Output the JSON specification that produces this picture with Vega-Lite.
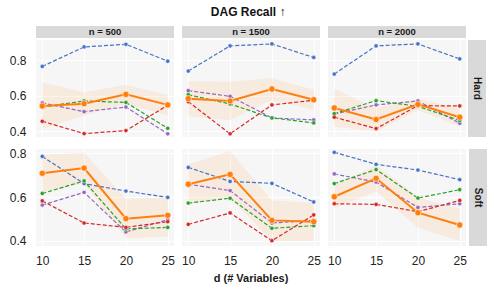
{
  "$schema": "https://vega.github.io/schema/vega-lite/v6.json",
  "background": "white",
  "padding": {"left": 9, "top": 6, "right": 8, "bottom": 6},
  "title": {"text": "DAG Recall ↑", "fontSize": 12, "fontWeight": "bold", "anchor": "middle", "color": "#111111", "offset": 7},
  "config": {
    "font": "Liberation Sans",
    "view": {"stroke": null},
    "legend": {"disable": true},
    "axis": {"labelFontSize": 12, "labelColor": "#222222", "gridColor": "white", "gridWidth": 1.1, "domain": false, "ticks": false}
  },
  "datasets": {
    "strips": [{"n": "n = 500"}, {"n": "n = 1500"}, {"n": "n = 2000"}],
    "main": [
      {"type": "Hard", "n": 500, "m": "B1", "d": 10, "v": 0.765},
      {"type": "Hard", "n": 500, "m": "B1", "d": 15, "v": 0.874},
      {"type": "Hard", "n": 500, "m": "B1", "d": 20, "v": 0.889},
      {"type": "Hard", "n": 500, "m": "B1", "d": 25, "v": 0.794},
      {"type": "Hard", "n": 500, "m": "B2", "d": 10, "v": 0.560},
      {"type": "Hard", "n": 500, "m": "B2", "d": 15, "v": 0.511},
      {"type": "Hard", "n": 500, "m": "B2", "d": 20, "v": 0.537},
      {"type": "Hard", "n": 500, "m": "B2", "d": 25, "v": 0.387},
      {"type": "Hard", "n": 500, "m": "B3", "d": 10, "v": 0.537},
      {"type": "Hard", "n": 500, "m": "B3", "d": 15, "v": 0.571},
      {"type": "Hard", "n": 500, "m": "B3", "d": 20, "v": 0.563},
      {"type": "Hard", "n": 500, "m": "B3", "d": 25, "v": 0.418},
      {"type": "Hard", "n": 500, "m": "B4", "d": 10, "v": 0.457},
      {"type": "Hard", "n": 500, "m": "B4", "d": 15, "v": 0.388},
      {"type": "Hard", "n": 500, "m": "B4", "d": 20, "v": 0.405},
      {"type": "Hard", "n": 500, "m": "B4", "d": 25, "v": 0.547},
      {"type": "Hard", "n": 500, "m": "Ours", "d": 10, "v": 0.543, "lo": 0.414, "hi": 0.675},
      {"type": "Hard", "n": 500, "m": "Ours", "d": 15, "v": 0.556, "lo": 0.490, "hi": 0.620},
      {"type": "Hard", "n": 500, "m": "Ours", "d": 20, "v": 0.608, "lo": 0.556, "hi": 0.660},
      {"type": "Hard", "n": 500, "m": "Ours", "d": 25, "v": 0.549, "lo": 0.490, "hi": 0.605},

      {"type": "Hard", "n": 1500, "m": "B1", "d": 10, "v": 0.739},
      {"type": "Hard", "n": 1500, "m": "B1", "d": 15, "v": 0.880},
      {"type": "Hard", "n": 1500, "m": "B1", "d": 20, "v": 0.891},
      {"type": "Hard", "n": 1500, "m": "B1", "d": 25, "v": 0.815},
      {"type": "Hard", "n": 1500, "m": "B2", "d": 10, "v": 0.629},
      {"type": "Hard", "n": 1500, "m": "B2", "d": 15, "v": 0.597},
      {"type": "Hard", "n": 1500, "m": "B2", "d": 20, "v": 0.476},
      {"type": "Hard", "n": 1500, "m": "B2", "d": 25, "v": 0.465},
      {"type": "Hard", "n": 1500, "m": "B3", "d": 10, "v": 0.606},
      {"type": "Hard", "n": 1500, "m": "B3", "d": 15, "v": 0.554},
      {"type": "Hard", "n": 1500, "m": "B3", "d": 20, "v": 0.476},
      {"type": "Hard", "n": 1500, "m": "B3", "d": 25, "v": 0.448},
      {"type": "Hard", "n": 1500, "m": "B4", "d": 10, "v": 0.567},
      {"type": "Hard", "n": 1500, "m": "B4", "d": 15, "v": 0.387},
      {"type": "Hard", "n": 1500, "m": "B4", "d": 20, "v": 0.549},
      {"type": "Hard", "n": 1500, "m": "B4", "d": 25, "v": 0.575},
      {"type": "Hard", "n": 1500, "m": "Ours", "d": 10, "v": 0.584, "lo": 0.486, "hi": 0.682},
      {"type": "Hard", "n": 1500, "m": "Ours", "d": 15, "v": 0.571, "lo": 0.463, "hi": 0.679},
      {"type": "Hard", "n": 1500, "m": "Ours", "d": 20, "v": 0.638, "lo": 0.578, "hi": 0.698},
      {"type": "Hard", "n": 1500, "m": "Ours", "d": 25, "v": 0.578, "lo": 0.522, "hi": 0.634},

      {"type": "Hard", "n": 2000, "m": "B1", "d": 10, "v": 0.722},
      {"type": "Hard", "n": 2000, "m": "B1", "d": 15, "v": 0.880},
      {"type": "Hard", "n": 2000, "m": "B1", "d": 20, "v": 0.891},
      {"type": "Hard", "n": 2000, "m": "B1", "d": 25, "v": 0.807},
      {"type": "Hard", "n": 2000, "m": "B2", "d": 10, "v": 0.498},
      {"type": "Hard", "n": 2000, "m": "B2", "d": 15, "v": 0.549},
      {"type": "Hard", "n": 2000, "m": "B2", "d": 20, "v": 0.571},
      {"type": "Hard", "n": 2000, "m": "B2", "d": 25, "v": 0.446},
      {"type": "Hard", "n": 2000, "m": "B3", "d": 10, "v": 0.500},
      {"type": "Hard", "n": 2000, "m": "B3", "d": 15, "v": 0.573},
      {"type": "Hard", "n": 2000, "m": "B3", "d": 20, "v": 0.541},
      {"type": "Hard", "n": 2000, "m": "B3", "d": 25, "v": 0.462},
      {"type": "Hard", "n": 2000, "m": "B4", "d": 10, "v": 0.480},
      {"type": "Hard", "n": 2000, "m": "B4", "d": 15, "v": 0.416},
      {"type": "Hard", "n": 2000, "m": "B4", "d": 20, "v": 0.545},
      {"type": "Hard", "n": 2000, "m": "B4", "d": 25, "v": 0.543},
      {"type": "Hard", "n": 2000, "m": "Ours", "d": 10, "v": 0.532, "lo": 0.426, "hi": 0.638},
      {"type": "Hard", "n": 2000, "m": "Ours", "d": 15, "v": 0.467, "lo": 0.400, "hi": 0.530},
      {"type": "Hard", "n": 2000, "m": "Ours", "d": 20, "v": 0.552, "lo": 0.520, "hi": 0.584},
      {"type": "Hard", "n": 2000, "m": "Ours", "d": 25, "v": 0.480, "lo": 0.430, "hi": 0.530},

      {"type": "Soft", "n": 500, "m": "B1", "d": 10, "v": 0.786},
      {"type": "Soft", "n": 500, "m": "B1", "d": 15, "v": 0.662},
      {"type": "Soft", "n": 500, "m": "B1", "d": 20, "v": 0.628},
      {"type": "Soft", "n": 500, "m": "B1", "d": 25, "v": 0.599},
      {"type": "Soft", "n": 500, "m": "B2", "d": 10, "v": 0.564},
      {"type": "Soft", "n": 500, "m": "B2", "d": 15, "v": 0.622},
      {"type": "Soft", "n": 500, "m": "B2", "d": 20, "v": 0.441},
      {"type": "Soft", "n": 500, "m": "B2", "d": 25, "v": 0.497},
      {"type": "Soft", "n": 500, "m": "B3", "d": 10, "v": 0.617},
      {"type": "Soft", "n": 500, "m": "B3", "d": 15, "v": 0.674},
      {"type": "Soft", "n": 500, "m": "B3", "d": 20, "v": 0.455},
      {"type": "Soft", "n": 500, "m": "B3", "d": 25, "v": 0.462},
      {"type": "Soft", "n": 500, "m": "B4", "d": 10, "v": 0.583},
      {"type": "Soft", "n": 500, "m": "B4", "d": 15, "v": 0.482},
      {"type": "Soft", "n": 500, "m": "B4", "d": 20, "v": 0.462},
      {"type": "Soft", "n": 500, "m": "B4", "d": 25, "v": 0.488},
      {"type": "Soft", "n": 500, "m": "Ours", "d": 10, "v": 0.709, "lo": 0.625, "hi": 0.793},
      {"type": "Soft", "n": 500, "m": "Ours", "d": 15, "v": 0.733, "lo": 0.663, "hi": 0.803},
      {"type": "Soft", "n": 500, "m": "Ours", "d": 20, "v": 0.502, "lo": 0.412, "hi": 0.592},
      {"type": "Soft", "n": 500, "m": "Ours", "d": 25, "v": 0.517, "lo": 0.420, "hi": 0.600},

      {"type": "Soft", "n": 1500, "m": "B1", "d": 10, "v": 0.736},
      {"type": "Soft", "n": 1500, "m": "B1", "d": 15, "v": 0.672},
      {"type": "Soft", "n": 1500, "m": "B1", "d": 20, "v": 0.663},
      {"type": "Soft", "n": 1500, "m": "B1", "d": 25, "v": 0.578},
      {"type": "Soft", "n": 1500, "m": "B2", "d": 10, "v": 0.659},
      {"type": "Soft", "n": 1500, "m": "B2", "d": 15, "v": 0.630},
      {"type": "Soft", "n": 1500, "m": "B2", "d": 20, "v": 0.482},
      {"type": "Soft", "n": 1500, "m": "B2", "d": 25, "v": 0.494},
      {"type": "Soft", "n": 1500, "m": "B3", "d": 10, "v": 0.573},
      {"type": "Soft", "n": 1500, "m": "B3", "d": 15, "v": 0.595},
      {"type": "Soft", "n": 1500, "m": "B3", "d": 20, "v": 0.458},
      {"type": "Soft", "n": 1500, "m": "B3", "d": 25, "v": 0.470},
      {"type": "Soft", "n": 1500, "m": "B4", "d": 10, "v": 0.476},
      {"type": "Soft", "n": 1500, "m": "B4", "d": 15, "v": 0.528},
      {"type": "Soft", "n": 1500, "m": "B4", "d": 20, "v": 0.401},
      {"type": "Soft", "n": 1500, "m": "B4", "d": 25, "v": 0.519},
      {"type": "Soft", "n": 1500, "m": "Ours", "d": 10, "v": 0.659, "lo": 0.569, "hi": 0.749},
      {"type": "Soft", "n": 1500, "m": "Ours", "d": 15, "v": 0.704, "lo": 0.597, "hi": 0.811},
      {"type": "Soft", "n": 1500, "m": "Ours", "d": 20, "v": 0.494, "lo": 0.400, "hi": 0.585},
      {"type": "Soft", "n": 1500, "m": "Ours", "d": 25, "v": 0.488, "lo": 0.400, "hi": 0.575},

      {"type": "Soft", "n": 2000, "m": "B1", "d": 10, "v": 0.805},
      {"type": "Soft", "n": 2000, "m": "B1", "d": 15, "v": 0.750},
      {"type": "Soft", "n": 2000, "m": "B1", "d": 20, "v": 0.724},
      {"type": "Soft", "n": 2000, "m": "B1", "d": 25, "v": 0.680},
      {"type": "Soft", "n": 2000, "m": "B2", "d": 10, "v": 0.706},
      {"type": "Soft", "n": 2000, "m": "B2", "d": 15, "v": 0.669},
      {"type": "Soft", "n": 2000, "m": "B2", "d": 20, "v": 0.553},
      {"type": "Soft", "n": 2000, "m": "B2", "d": 25, "v": 0.570},
      {"type": "Soft", "n": 2000, "m": "B3", "d": 10, "v": 0.662},
      {"type": "Soft", "n": 2000, "m": "B3", "d": 15, "v": 0.726},
      {"type": "Soft", "n": 2000, "m": "B3", "d": 20, "v": 0.596},
      {"type": "Soft", "n": 2000, "m": "B3", "d": 25, "v": 0.634},
      {"type": "Soft", "n": 2000, "m": "B4", "d": 10, "v": 0.570},
      {"type": "Soft", "n": 2000, "m": "B4", "d": 15, "v": 0.567},
      {"type": "Soft", "n": 2000, "m": "B4", "d": 20, "v": 0.534},
      {"type": "Soft", "n": 2000, "m": "B4", "d": 25, "v": 0.585},
      {"type": "Soft", "n": 2000, "m": "Ours", "d": 10, "v": 0.602, "lo": 0.549, "hi": 0.656},
      {"type": "Soft", "n": 2000, "m": "Ours", "d": 15, "v": 0.686, "lo": 0.626, "hi": 0.746},
      {"type": "Soft", "n": 2000, "m": "Ours", "d": 20, "v": 0.529, "lo": 0.460, "hi": 0.598},
      {"type": "Soft", "n": 2000, "m": "Ours", "d": 25, "v": 0.473, "lo": 0.400, "hi": 0.546}
    ]
  },
  "spacing": 9,
  "vconcat": [
    {
      "spacing": 2,
      "vconcat": [
        {
          "data": {"name": "strips"},
          "facet": {"column": {"field": "n", "type": "nominal", "sort": ["n = 500", "n = 1500", "n = 2000"], "header": {"title": null, "labels": false}}},
          "spacing": 8,
          "spec": {
            "width": 138,
            "height": 12,
            "view": {"fill": "#d9d9d9", "stroke": null},
            "mark": {"type": "text", "fontWeight": "bold", "fontSize": 9.5, "color": "#1a1a1a"},
            "encoding": {
              "text": {"field": "n", "type": "nominal"},
              "y": {"datum": 0.5, "type": "quantitative", "scale": {"domain": [0, 1]}, "axis": {"values": [0.5], "labelExpr": "'0.8'", "labelColor": "transparent", "labelPadding": 10, "grid": false, "title": null}}
            }
          }
        },
        {
          "spacing": 2,
          "hconcat": [
            {
              "data": {"name": "main"},
              "transform": [{"filter": "datum.type === 'Hard'"}],
              "facet": {"column": {"field": "n", "type": "ordinal", "sort": [500, 1500, 2000], "header": {"title": null, "labels": false}}},
              "spacing": 8,
              "spec": {
                "width": 138,
                "height": 97,
                "view": {"fill": "#f6f6f6", "stroke": null},
                "encoding": {
                  "x": {"field": "d", "type": "quantitative", "scale": {"domain": [9.25, 25.75], "nice": false, "zero": false}, "axis": {"values": [10, 15, 20, 25], "labels": false, "title": null, "grid": true}},
                  "y": {"field": "v", "type": "quantitative", "scale": {"domain": [0.369, 0.913], "nice": false, "zero": false}, "axis": {"values": [0.4, 0.6, 0.8], "format": ".1f", "title": null, "labelPadding": 10, "grid": true}}
                },
                "layer": [
                  {
                    "transform": [{"filter": "datum.m === 'Ours'"}],
                    "mark": {"type": "area", "color": "#ff7f0e", "opacity": 0.1, "clip": true},
                    "encoding": {"y": {"field": "lo", "type": "quantitative"}, "y2": {"field": "hi"}}
                  },
                  {
                    "transform": [{"filter": "datum.m !== 'Ours'"}],
                    "mark": {"type": "line", "strokeDash": [4, 2], "strokeWidth": 1.2, "clip": true},
                    "encoding": {"color": {"field": "m", "type": "nominal", "scale": {"domain": ["B1", "B2", "B3", "B4"], "range": ["#4472c4", "#9467bd", "#2ca02c", "#d62728"]}}}
                  },
                  {
                    "transform": [{"filter": "datum.m !== 'Ours'"}],
                    "mark": {"type": "point", "filled": true, "size": 18, "stroke": "white", "strokeWidth": 0.5, "opacity": 1, "clip": true},
                    "encoding": {"color": {"field": "m", "type": "nominal", "scale": {"domain": ["B1", "B2", "B3", "B4"], "range": ["#4472c4", "#9467bd", "#2ca02c", "#d62728"]}}}
                  },
                  {
                    "transform": [{"filter": "datum.m === 'Ours'"}],
                    "mark": {"type": "line", "color": "#ff7f0e", "strokeWidth": 2, "clip": true},
                    "encoding": {}
                  },
                  {
                    "transform": [{"filter": "datum.m === 'Ours'"}],
                    "mark": {"type": "point", "filled": true, "size": 40, "color": "#ff7f0e", "stroke": "white", "strokeWidth": 0.6, "opacity": 1, "clip": true},
                    "encoding": {}
                  }
                ]
              }
            },
            {
              "data": {"values": [{"t": "Hard"}]},
              "width": 18,
              "height": 97,
              "view": {"fill": "#d9d9d9", "stroke": null},
              "mark": {"type": "text", "angle": 90, "fontWeight": "bold", "fontSize": 10, "color": "#1a1a1a"},
              "encoding": {"text": {"field": "t", "type": "nominal"}}
            }
          ]
        }
      ]
    },
    {
      "spacing": 2,
      "hconcat": [
        {
          "data": {"name": "main"},
          "transform": [{"filter": "datum.type === 'Soft'"}],
          "facet": {"column": {"field": "n", "type": "ordinal", "sort": [500, 1500, 2000], "header": {"title": "d (# Variables)", "titleOrient": "bottom", "labels": false, "titleFontSize": 11, "titleFontWeight": "bold", "titleColor": "#1a1a1a", "titlePadding": -3}}},
          "spacing": 8,
          "spec": {
            "width": 138,
            "height": 97,
            "view": {"fill": "#f6f6f6", "stroke": null},
            "encoding": {
              "x": {"field": "d", "type": "quantitative", "scale": {"domain": [9.25, 25.75], "nice": false, "zero": false}, "axis": {"values": [10, 15, 20, 25], "title": null, "labelPadding": 9, "grid": true}},
              "y": {"field": "v", "type": "quantitative", "scale": {"domain": [0.377, 0.82], "nice": false, "zero": false}, "axis": {"values": [0.4, 0.6, 0.8], "format": ".1f", "title": null, "labelPadding": 10, "grid": true}}
            },
            "layer": [
              {
                "transform": [{"filter": "datum.m === 'Ours'"}],
                "mark": {"type": "area", "color": "#ff7f0e", "opacity": 0.1, "clip": true},
                "encoding": {"y": {"field": "lo", "type": "quantitative"}, "y2": {"field": "hi"}}
              },
              {
                "transform": [{"filter": "datum.m !== 'Ours'"}],
                "mark": {"type": "line", "strokeDash": [4, 2], "strokeWidth": 1.2, "clip": true},
                "encoding": {"color": {"field": "m", "type": "nominal", "scale": {"domain": ["B1", "B2", "B3", "B4"], "range": ["#4472c4", "#9467bd", "#2ca02c", "#d62728"]}}}
              },
              {
                "transform": [{"filter": "datum.m !== 'Ours'"}],
                "mark": {"type": "point", "filled": true, "size": 18, "stroke": "white", "strokeWidth": 0.5, "opacity": 1, "clip": true},
                "encoding": {"color": {"field": "m", "type": "nominal", "scale": {"domain": ["B1", "B2", "B3", "B4"], "range": ["#4472c4", "#9467bd", "#2ca02c", "#d62728"]}}}
              },
              {
                "transform": [{"filter": "datum.m === 'Ours'"}],
                "mark": {"type": "line", "color": "#ff7f0e", "strokeWidth": 2, "clip": true},
                "encoding": {}
              },
              {
                "transform": [{"filter": "datum.m === 'Ours'"}],
                "mark": {"type": "point", "filled": true, "size": 40, "color": "#ff7f0e", "stroke": "white", "strokeWidth": 0.6, "opacity": 1, "clip": true},
                "encoding": {}
              }
            ]
          }
        },
        {
          "data": {"values": [{"t": "Soft"}]},
          "width": 18,
          "height": 97,
          "view": {"fill": "#d9d9d9", "stroke": null},
          "mark": {"type": "text", "angle": 90, "fontWeight": "bold", "fontSize": 10, "color": "#1a1a1a"},
          "encoding": {"text": {"field": "t", "type": "nominal"}}
        }
      ]
    }
  ]
}
